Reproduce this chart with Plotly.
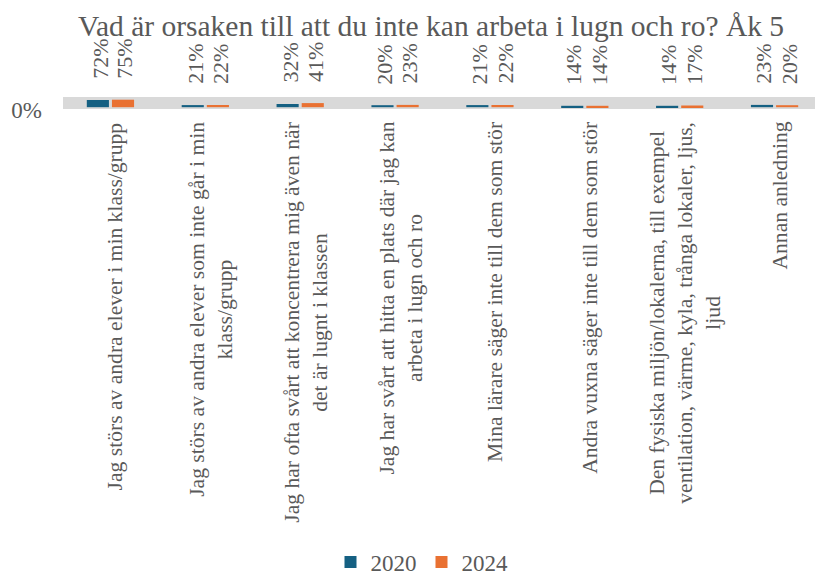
import plotly.graph_objects as go

categories = [
    "Jag störs av andra elever i min klass/grupp",
    "Jag störs av andra elever som inte går i min<br>klass/grupp",
    "Jag har ofta svårt att koncentrera mig även när<br>det är lugnt i klassen",
    "Jag har svårt att hitta en plats där jag kan<br>arbeta i lugn och ro",
    "Mina lärare säger inte till dem som stör",
    "Andra vuxna säger inte till dem som stör",
    "Den fysiska miljön/lokalerna, till exempel<br>ventilation, värme, kyla, trånga lokaler, ljus,<br>ljud",
    "Annan anledning",
]
keys = [f"c{i}" for i in range(len(categories))]
values_2020 = [0.72, 0.21, 0.32, 0.20, 0.21, 0.14, 0.14, 0.23]
values_2024 = [0.75, 0.22, 0.41, 0.23, 0.22, 0.14, 0.17, 0.20]
series = [("2020", values_2020, "#156082"), ("2024", values_2024, "#E97132")]

FONT = "Times New Roman"
GRAY = "#595959"

fig = go.Figure()
for name, vals, color in series:
    fig.add_trace(go.Bar(x=keys, y=vals, name=name, marker=dict(color=color, line=dict(width=0))))

# data labels
for si, (name, vals, color) in enumerate(series):
    shift = -12.6 if si == 0 else 12.6
    for k, v in zip(keys, vals):
        fig.add_annotation(x=k, y=v, xref="x", yref="y", text=f"{round(v*100)}%",
                           textangle=-90, showarrow=False, xanchor="center", yanchor="bottom",
                           xshift=shift + 2, yshift=19,
                           font=dict(family=FONT, size=22, color=GRAY))

# category labels
for k, c in zip(keys, categories):
    fig.add_annotation(x=k, y=0, xref="x", yref="paper", text=c, textangle=-90,
                       showarrow=False, xanchor="center", yanchor="top", align="center",
                       xshift=5, yshift=-11,
                       font=dict(family=FONT, size=21.6, color=GRAY))

# page body has an 8px margin, so the figure is sized/positioned to compensate
W, H = 815, 569
fig.update_layout(
    width=W, height=H,
    font=dict(family=FONT, color=GRAY),
    margin=dict(l=55, r=1, t=89, b=468, autoexpand=False),
    paper_bgcolor="white", plot_bgcolor="#d9d9d9",
    barmode="group", bargap=0.47, bargroupgap=0.12,
    title=dict(text="Vad är orsaken till att du inte kan arbeta i lugn och ro? Åk 5",
               x=423 / W, xref="container", xanchor="center",
               y=1 - 7 / H, yref="container", yanchor="top",
               font=dict(family=FONT, size=29.5, color=GRAY)),
    showlegend=True,
    legend=dict(orientation="h", x=414 / W, xref="container", xanchor="center",
                y=15 / H, yref="container", yanchor="middle",
                font=dict(family=FONT, size=23, color=GRAY), bgcolor="rgba(0,0,0,0)"),
    xaxis=dict(showticklabels=False, showgrid=False, zeroline=False, showline=False, ticks=""),
    yaxis=dict(range=[-0.18, 1.02], tickvals=[0], ticktext=["0%"], showgrid=False,
               zeroline=False, showline=False, ticks="", ticklabelstandoff=20,
               ticklabelshift=3,
               tickfont=dict(family=FONT, size=23, color=GRAY)),
)

fig.write_html("out.html")
